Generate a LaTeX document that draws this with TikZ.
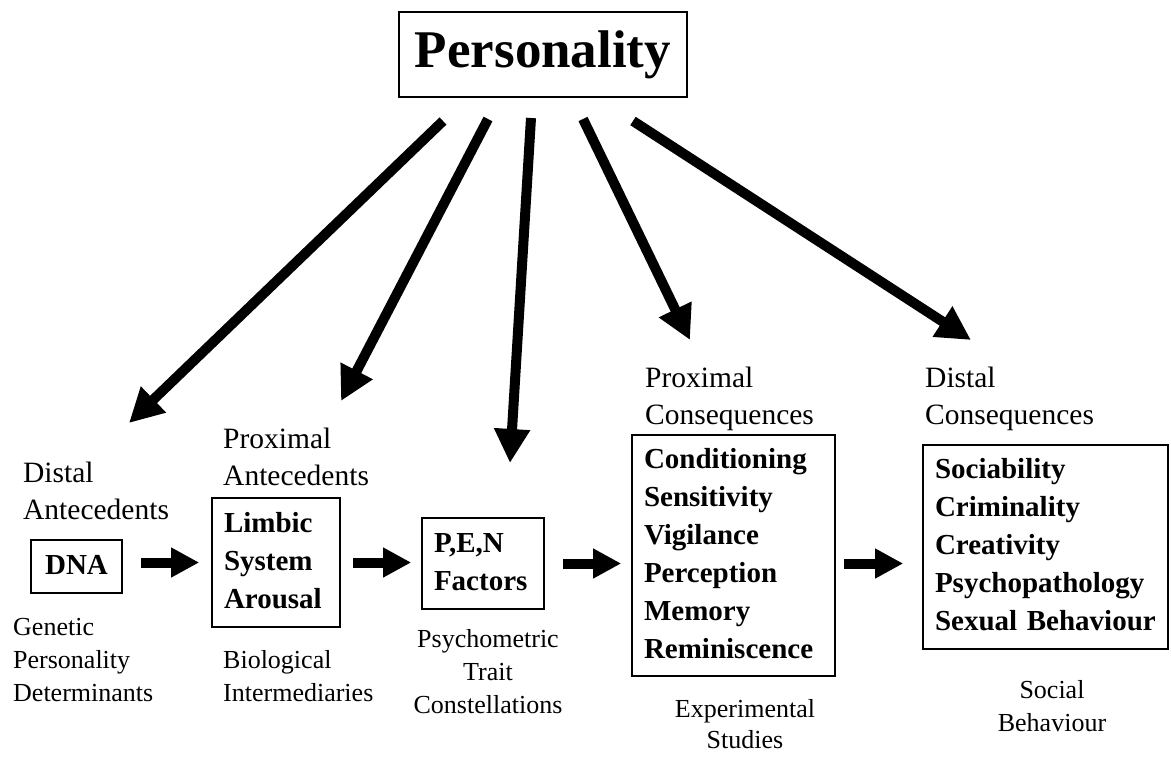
\documentclass[tikz,border=0pt]{standalone}
\usepackage{fontspec}
\setmainfont{Liberation Serif}
\usetikzlibrary{arrows.meta}

\begin{document}
\begin{tikzpicture}[x=1pt, y=-1pt,
  box/.style={draw, line width=1.6pt, inner ysep=0pt, inner xsep=12pt,
    font={\fontsize{29}{38}\selectfont\bfseries}},
  head/.style={inner sep=0pt, text width=230pt, align=left,
    font={\fontsize{29.5}{37}\selectfont}},
  note/.style={inner sep=0pt, text width=200pt,
    font={\fontsize{26}{33}\selectfont}},
  bigarrow/.style={line width=10pt, -{Triangle[length=34pt,width=34pt]}},
  flowarrow/.style={line width=10pt, -{Triangle[length=28pt,width=28pt]}}]
\useasboundingbox (0,0) rectangle (1171,756);

% top box
\node[draw, line width=1.6pt, minimum width=288pt, minimum height=85pt,
  font={\fontsize{53}{60}\selectfont\bfseries}] (pers) at (543,54.5) {Personality};

% boxes of the chain
\node[box, minimum width=91pt, minimum height=53pt, align=center] (dna) at (76.5,566.5) {\strut DNA};
\node[box, text width=104pt, minimum height=129pt, align=left] (limbic) at (276,562.5)
  {\strut Limbic\\\strut System\\\strut Arousal};
\node[box, text width=98pt, minimum height=91pt, align=left, inner xsep=12pt] (pen) at (483,563.5)
  {\strut P,E,N\\\strut Factors};
\node[box, text width=179pt, minimum height=241pt, align=left] (cond) at (733.5,555.5)
  {\strut Conditioning\\\strut Sensitivity\\\strut Vigilance\\\strut Perception\\\strut Memory\\\strut Reminiscence};
\node[box, text width=221pt, minimum height=204pt, align=left] (soc) at (1045.5,547)
  {\strut Sociability\\\strut Criminality\\\strut Creativity\\\strut Psychopathology\\\strut Sexual Behaviour};

% headings above the boxes
\node[head, anchor=base west] (distant) at (23,482) {Distal\\Antecedents};
\node[head, anchor=base west] (proxant) at (223,448) {Proximal\\Antecedents};
\node[head, anchor=base west] (proxcons) at (645,387) {Proximal\\Consequences};
\node[head, anchor=base west] (distcons) at (925,387) {Distal\\Consequences};

% notes below the boxes
\node[note, anchor=base west, align=left] (genetic) at (13,635) {Genetic\\Personality\\Determinants};
\node[note, anchor=base west, align=left] (bio) at (223,668) {Biological\\Intermediaries};
\node[note, anchor=base, align=center] (psycho) at (488,647) {Psychometric\\Trait\\Constellations};
\node[note, anchor=base, align=center, font={\fontsize{26}{31}\selectfont}] (exper) at (745,717) {Experimental\\Studies};
\node[note, anchor=base, align=center] (social) at (1052,698) {Social\\Behaviour};

% arrows from the top box
\coordinate (s1) at (443,121);
\coordinate (s2) at (488,119);
\coordinate (s3) at (531,118);
\coordinate (s4) at (583,119);
\coordinate (s5) at (633,121);
\coordinate (t1) at (129,423);
\coordinate (t2) at (341,401);
\coordinate (t3) at (510,463);
\coordinate (t4) at (690,340);
\coordinate (t5) at (971,340);
\draw[bigarrow] (s1) -- (t1);
\draw[bigarrow] (s2) -- (t2);
\draw[bigarrow] (s3) -- (t3);
\draw[bigarrow] (s4) -- (t4);
\draw[bigarrow] (s5) -- (t5);

% arrows along the chain
\draw[flowarrow, shorten <=18pt, shorten >=12pt] (dna.east |- limbic.west) -- (limbic.west);
\draw[flowarrow, shorten <=12pt, shorten >=10pt] (limbic.east) -- (limbic.east -| pen.west);
\draw[flowarrow, shorten <=18pt, shorten >=10pt] (pen.east) -- (pen.east -| cond.west);
\draw[flowarrow, shorten <=8pt, shorten >=19pt] (cond.east |- pen.east) -- (pen.east -| soc.west);
\end{tikzpicture}
\end{document}
